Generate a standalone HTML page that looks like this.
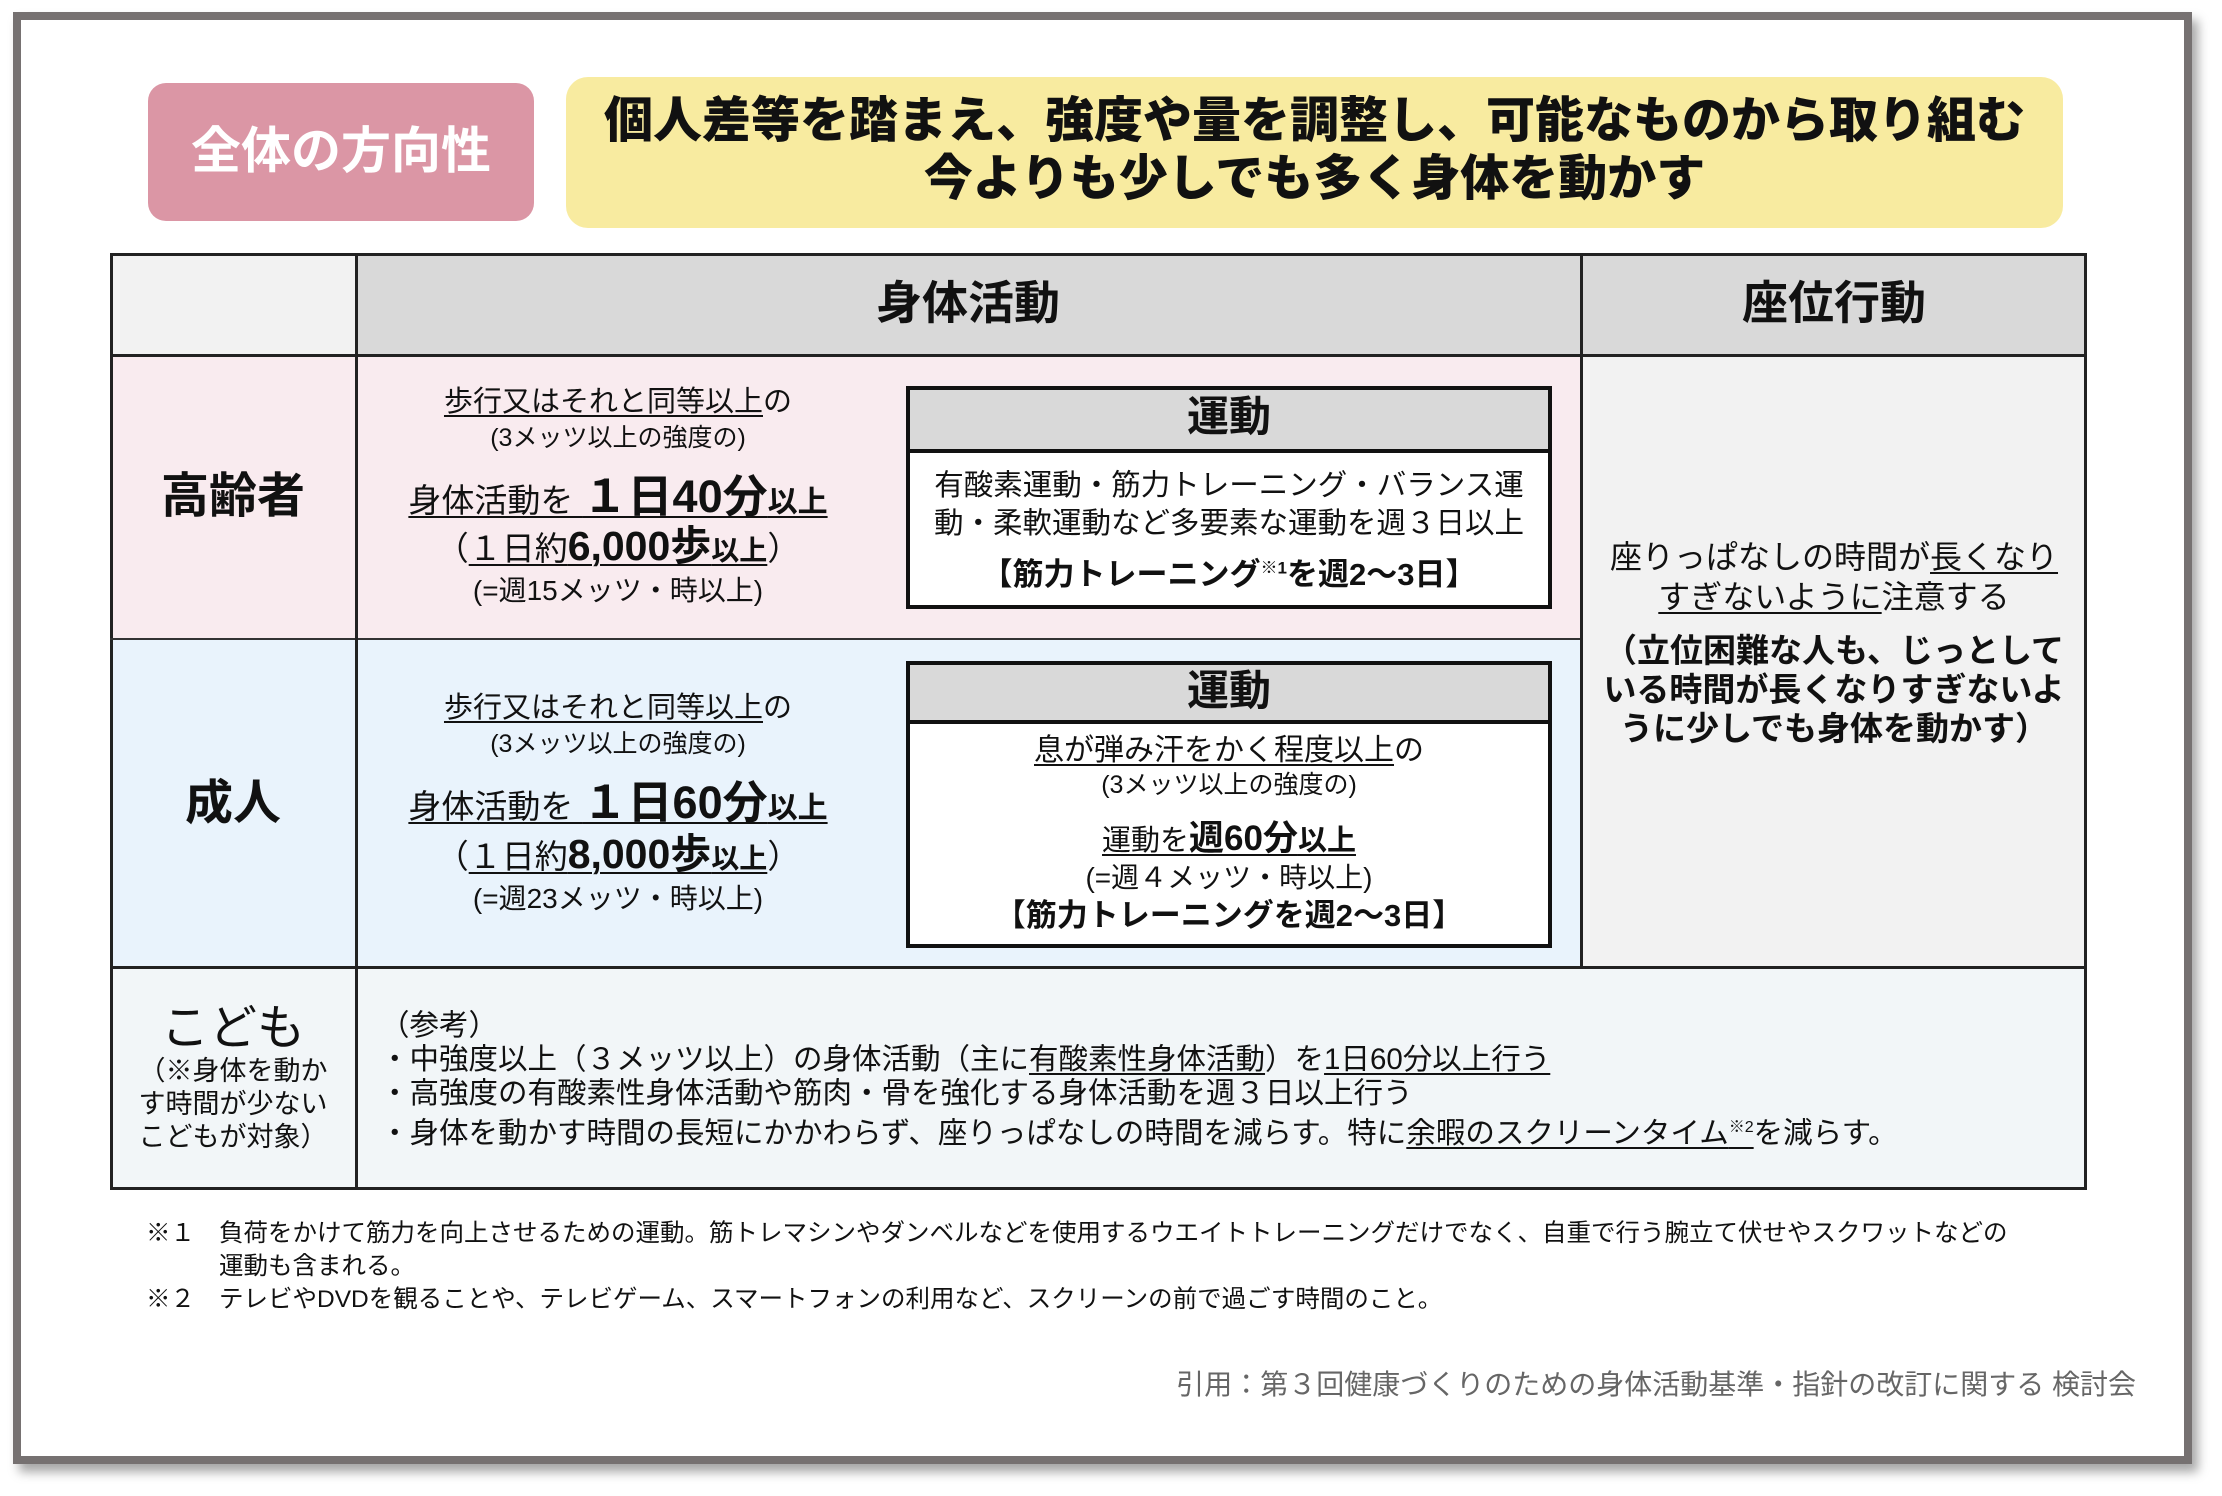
<!DOCTYPE html>
<html><head><meta charset="utf-8"><style>
*{margin:0;padding:0;box-sizing:border-box}
body{width:2222px;height:1496px;background:#fff;position:relative;overflow:hidden;font-family:"Liberation Sans","Noto Sans CJK JP",sans-serif;color:#111}
.a{position:absolute}
.t{position:absolute;white-space:nowrap;text-align:center;line-height:1}
u{text-decoration:underline;text-decoration-thickness:2px;text-underline-offset:4px}
.b{font-weight:bold}
</style></head><body>
<div class="a" style="left:13px;top:12px;width:2179px;height:1452px;border:8px solid #767171;box-shadow:6px 8px 10px rgba(0,0,0,0.35)"></div>
<div class="a" style="left:148px;top:83px;width:386px;height:138px;background:#DB96A5;border-radius:18px"></div>
<div class="t b" style="left:148px;width:386px;top:121px;font-size:50px;color:#fff;line-height:60px">全体の方向性</div>
<div class="a" style="left:566px;top:77px;width:1497px;height:151px;background:#F8EBA0;border-radius:22px"></div>
<div class="t b" style="left:566px;width:1497px;top:92px;font-size:49px;line-height:58px;font-weight:900">個人差等を踏まえ、強度や量を調整し、可能なものから取り組む<br>今よりも少しでも多く身体を動かす</div>

<div class="a" style="left:110px;top:253px;width:246px;height:103px;background:#f2f2f2"></div>
<div class="a" style="left:356px;top:253px;width:1731px;height:103px;background:#d9d9d9"></div>
<div class="a" style="left:110px;top:356px;width:1471px;height:283px;background:#F9EBEF"></div>
<div class="a" style="left:110px;top:639px;width:1471px;height:328px;background:#E9F3FC"></div>
<div class="a" style="left:1581px;top:356px;width:506px;height:611px;background:#f2f2f2"></div>
<div class="a" style="left:110px;top:967px;width:1977px;height:223px;background:#F2F6F8"></div>
<div class="a" style="left:110px;top:253px;width:1977px;height:937px;border:3px solid #222"></div>
<div class="a" style="left:110px;top:354px;width:1977px;height:3px;background:#222"></div>
<div class="a" style="left:110px;top:638px;width:1471px;height:2px;background:#333"></div>
<div class="a" style="left:110px;top:966px;width:1977px;height:3px;background:#222"></div>
<div class="a" style="left:355px;top:253px;width:3px;height:937px;background:#222"></div>
<div class="a" style="left:1580px;top:253px;width:3px;height:714px;background:#222"></div>

<div class="t b" style="left:356px;width:1224px;top:280px;font-size:46px">身体活動</div>
<div class="t b" style="left:1581px;width:506px;top:280px;font-size:46px">座位行動</div>

<div class="t b" style="left:110px;width:246px;top:473px;font-size:48px">高齢者</div>
<div class="t b" style="left:110px;width:246px;top:780px;font-size:48px">成人</div>

<div class="t" style="left:356px;width:524px;top:388px;font-size:29px"><u>歩行又はそれと同等以上</u>の</div>
<div class="t" style="left:356px;width:524px;top:426px;font-size:25px">(3メッツ以上の強度の)</div>
<div class="t" style="left:356px;width:524px;top:474px;font-size:33px"><u>身体活動を <span class="b" style="font-size:45px">１日40分</span><span class="b" style="font-size:30px">以上</span></u></div>
<div class="t" style="left:356px;width:524px;top:526px;font-size:33px">（<u>１日約<span class="b" style="font-size:41px">6,000歩</span><span class="b" style="font-size:28px">以上</span></u>）</div>
<div class="t" style="left:356px;width:524px;top:577px;font-size:28px">(=週15メッツ・時以上)</div>
<div class="t" style="left:356px;width:524px;top:694px;font-size:29px"><u>歩行又はそれと同等以上</u>の</div>
<div class="t" style="left:356px;width:524px;top:732px;font-size:25px">(3メッツ以上の強度の)</div>
<div class="t" style="left:356px;width:524px;top:780px;font-size:33px"><u>身体活動を <span class="b" style="font-size:45px">１日60分</span><span class="b" style="font-size:30px">以上</span></u></div>
<div class="t" style="left:356px;width:524px;top:834px;font-size:33px">（<u>１日約<span class="b" style="font-size:41px">8,000歩</span><span class="b" style="font-size:28px">以上</span></u>）</div>
<div class="t" style="left:356px;width:524px;top:885px;font-size:28px">(=週23メッツ・時以上)</div>

<div class="a" style="left:906px;top:386px;width:646px;height:223px;background:#fff;border:4px solid #111"></div>
<div class="a" style="left:910px;top:390px;width:638px;height:63px;background:#d9d9d9;border-bottom:4px solid #111"></div>
<div class="t b" style="left:906px;width:646px;top:396px;font-size:42px">運動</div>
<div class="t" style="left:906px;width:646px;top:467px;font-size:29.5px;line-height:38px">有酸素運動・筋力トレーニング・バランス運<br>動・柔軟運動など多要素な運動を週３日以上</div>
<div class="t b" style="left:906px;width:646px;top:559px;font-size:31px">【筋力トレーニング<sup style="font-size:17px">※1</sup>を週2～3日】</div>
<div class="a" style="left:906px;top:661px;width:646px;height:287px;background:#fff;border:4px solid #111"></div>
<div class="a" style="left:910px;top:665px;width:638px;height:59px;background:#d9d9d9;border-bottom:4px solid #111"></div>
<div class="t b" style="left:906px;width:646px;top:670px;font-size:42px">運動</div>
<div class="t" style="left:906px;width:646px;top:736px;font-size:30px"><u>息が弾み汗をかく程度以上</u>の</div>
<div class="t" style="left:906px;width:646px;top:773px;font-size:25px">(3メッツ以上の強度の)</div>
<div class="t" style="left:906px;width:646px;top:821px;font-size:29px"><u>運動を<span class="b" style="font-size:35px">週60分</span><span class="b">以上</span></u></div>
<div class="t" style="left:906px;width:646px;top:864px;font-size:28px">(=週４メッツ・時以上)</div>
<div class="t b" style="left:906px;width:646px;top:900px;font-size:31px">【筋力トレーニングを週2～3日】</div>

<div class="t" style="left:1581px;width:506px;top:537px;font-size:32px;line-height:40px">座りっぱなしの時間が<u>長くなり</u><br><u>すぎないように</u>注意する</div>
<div class="t b" style="left:1581px;width:506px;top:631px;font-size:33px;line-height:39px">（立位困難な人も、じっとして<br>いる時間が長くなりすぎないよ<br>うに少しでも身体を動かす）</div>

<div class="t" style="left:110px;width:246px;top:1005px;font-size:48px">こども</div>
<div class="t" style="left:110px;width:246px;top:1055px;font-size:27px;line-height:33px">（※身体を動か<br>す時間が少ない<br>こどもが対象）</div>
<div class="a" style="left:380px;top:1009px;font-size:29.5px;line-height:34px;white-space:nowrap">（参考）<br>・中強度以上（３メッツ以上）の身体活動（主に<u>有酸素性身体活動</u>）を<u>1日60分以上行う</u><br>・高強度の有酸素性身体活動や筋肉・骨を強化する身体活動を週３日以上行う<br>・身体を動かす時間の長短にかかわらず、座りっぱなしの時間を減らす。特に<u>余暇のスクリーンタイム<sup style="font-size:16px">※2</sup></u>を減らす。</div>

<div class="a" style="left:146px;top:1217px;font-size:24.5px;line-height:33px;white-space:nowrap">※１</div>
<div class="a" style="left:219px;top:1217px;font-size:24.5px;line-height:33px;white-space:nowrap">負荷をかけて筋力を向上させるための運動。筋トレマシンやダンベルなどを使用するウエイトトレーニングだけでなく、自重で行う腕立て伏せやスクワットなどの<br>運動も含まれる。<br>テレビやDVDを観ることや、テレビゲーム、スマートフォンの利用など、スクリーンの前で過ごす時間のこと。</div>
<div class="a" style="left:146px;top:1283px;font-size:24.5px;line-height:33px">※２</div>
<div class="a" style="right:86px;top:1369px;font-size:28px;line-height:32px;color:#666;white-space:nowrap">引用：第３回健康づくりのための身体活動基準・指針の改訂に関する 検討会</div>
</body></html>
